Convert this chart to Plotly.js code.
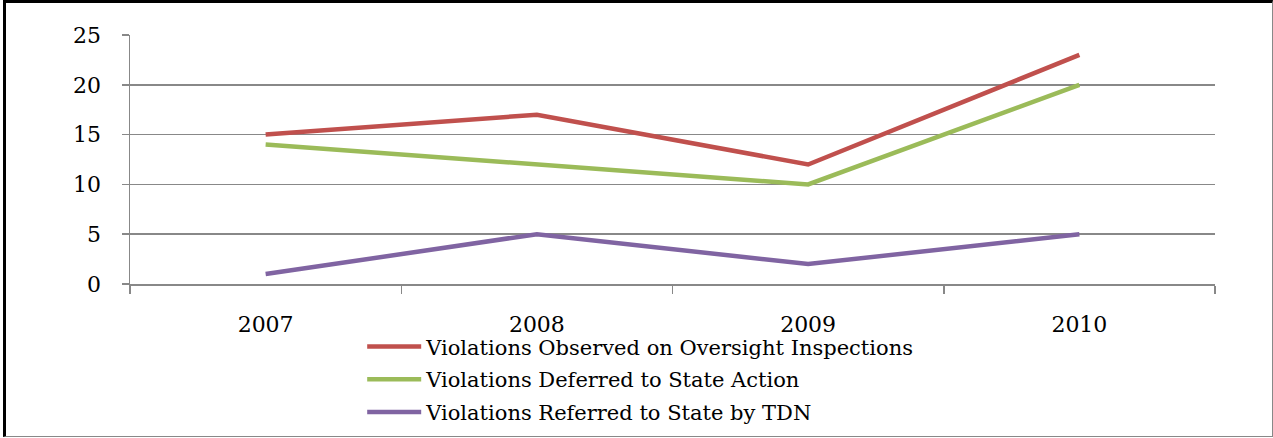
<!DOCTYPE html>
<html>
<head>
<meta charset="utf-8">
<script src="https://cdn.plot.ly/plotly-3.0.1.min.js"></script>
<style>
  html, body { margin: 0; padding: 0; background: #fff; }
  #wrap { position: relative; width: 1273px; height: 438px; }
  #chart { position: absolute; left: 0; top: 0; width: 1273px; height: 438px; }
  #frame { position: absolute; left: 3px; top: 0px; width: 1266px; height: 433px;
           border-top: 3px solid #000; border-left: 3px solid #000;
           border-right: 1px solid #888; border-bottom: 1px solid #888;
           pointer-events: none; }
</style>
</head>
<body>
<div id="wrap">
  <div id="chart"></div>
  <div id="frame"></div>
</div>
<script>
const years = ['2007', '2008', '2009', '2010'];
const observed = [15, 17, 12, 23];
const deferred = [14, 12, 10, 20];
const referred = [1, 5, 2, 5];
const seriesNames = [
  'Violations Observed on Oversight Inspections',
  'Violations Deferred to State Action',
  'Violations Referred to State by TDN'
];
const seriesColors = ['#C0504D', '#9BBB59', '#8064A2'];
const yTicks = [0, 5, 10, 15, 20, 25];

const seriesValues = [observed, deferred, referred];
const traces = seriesValues.map((vals, i) => ({
  type: 'scatter',
  mode: 'lines',
  x: years,
  y: vals,
  name: seriesNames[i],
  legendgroup: 'g' + i,
  line: { color: seriesColors[i], width: 4.5 }
}));

const FAMILY = 'DejaVu Serif';
const tickFont = { family: FAMILY, size: 22, color: '#000' };
const legendFont = { family: FAMILY, size: 21, color: '#000' };

const layout = {
  width: 1273,
  height: 438,
  margin: { l: 130, r: 58, t: 35, b: 153.5, autoexpand: false },
  paper_bgcolor: '#fff',
  plot_bgcolor: '#fff',
  font: tickFont,
  showlegend: true,
  legend: {
    orientation: 'v',
    x: 0.214, xanchor: 'left',
    y: -0.17, yanchor: 'top',
    font: legendFont,
    bgcolor: 'rgba(0,0,0,0)',
    tracegroupgap: 2.5,
    itemwidth: 54
  },
  xaxis: {
    type: 'category',
    range: [-0.5, 3.5],
    tickson: 'boundaries',
    ticks: 'outside',
    ticklen: 8,
    tickwidth: 1.5,
    tickcolor: '#888',
    showline: true,
    linecolor: '#888',
    linewidth: 1.5,
    showgrid: false,
    zeroline: false,
    tickfont: tickFont,
    ticklabelstandoff: 20,
    fixedrange: true
  },
  yaxis: {
    range: [0, 25],
    tickvals: yTicks,
    ticktext: yTicks.map(String),
    ticks: 'outside',
    ticklen: 7,
    tickwidth: 1.5,
    tickcolor: '#888',
    showline: true,
    linecolor: '#888',
    linewidth: 1.5,
    showgrid: true,
    gridcolor: '#888',
    gridwidth: 1.5,
    zeroline: false,
    tickfont: tickFont,
    ticklabelstandoff: 16,
    fixedrange: true
  }
};

Plotly.newPlot('chart', traces, layout, { displayModeBar: false, staticPlot: true });
</script>
</body>
</html>
